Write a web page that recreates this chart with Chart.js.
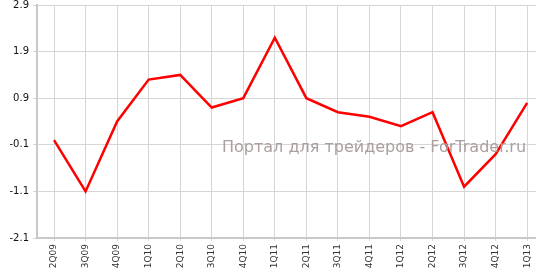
<!DOCTYPE html>
<html>
<head>
<meta charset="utf-8">
<script src="https://cdn.jsdelivr.net/npm/chart.js@4"></script>
<style>
  html, body { margin: 0; padding: 0; background: #fff; overflow: hidden; }
  #wrap { width: 536px; height: 271px; }
</style>
</head>
<body>
<div id="wrap"><canvas id="myChart" width="536" height="271"></canvas></div>
<script>
const quarters = ["2Q09", "3Q09", "4Q09", "1Q10", "2Q10", "3Q10", "4Q10", "1Q11",
  "2Q11", "3Q11", "4Q11", "1Q12", "2Q12", "3Q12", "4Q12", "1Q13"];
const values = [0.0, -1.1, 0.4, 1.3, 1.4, 0.7, 0.9, 2.2,
  0.9, 0.6, 0.5, 0.3, 0.6, -1.0, -0.3, 0.8];
const yTicks = [-2.1, -1.1, -0.1, 0.9, 1.9, 2.9];
const watermark = "Портал для трейдеров - ForTrader.ru";

const gridColor = "#d6d6d6";
const axisColor = "#c8c8c8";

const watermarkPlugin = {
  id: "watermark",
  afterDraw(chart) {
    const c = chart.ctx;
    c.save();
    c.font = '16px "DejaVu Sans"';
    c.fillStyle = "#ab9f9f";
    c.textAlign = "left";
    c.textBaseline = "alphabetic";
    c.fillText(watermark, 222, 152);
    c.restore();
  },
};

function noScalePadding(scale) {
  scale.paddingTop = 0;
  scale.paddingBottom = 0;
  scale.paddingLeft = 0;
  scale.paddingRight = 0;
}

const ctx = document.getElementById("myChart");
new Chart(ctx, {
  type: "line",
  data: {
    datasets: [
      {
        data: values.map((v, i) => ({ x: i, y: v })),
        borderColor: "#ff0000",
        borderWidth: 2.5,
        pointRadius: 0,
        tension: 0,
        fill: false,
      },
    ],
  },
  options: {
    responsive: false,
    animation: false,
    devicePixelRatio: 1,
    layout: { padding: { top: 5, left: 0, right: 0, bottom: 0 } },
    plugins: {
      legend: { display: false },
      tooltip: { enabled: false },
    },
    scales: {
      x: {
        type: "linear",
        min: -0.54,
        max: 15.28,
        afterBuildTicks: (scale) => {
          scale.ticks = quarters.map((q, i) => ({ value: i }));
        },
        afterFit: (scale) => {
          scale.height = 33;
          noScalePadding(scale);
        },
        grid: { color: gridColor, lineWidth: 1, tickLength: 3, drawTicks: true },
        border: { color: axisColor, width: 2 },
        ticks: {
          autoSkip: false,
          minRotation: 90,
          maxRotation: 90,
          padding: 3,
          color: "#333",
          font: { family: "DejaVu Sans", size: 9 },
          callback: (v) => quarters[v],
        },
      },
      y: {
        min: -2.1,
        max: 2.9,
        afterBuildTicks: (scale) => {
          scale.ticks = yTicks.map((v) => ({ value: v }));
        },
        afterFit: (scale) => {
          scale.width = 37;
          noScalePadding(scale);
        },
        grid: { color: gridColor, lineWidth: 1, tickLength: 4, drawTicks: true },
        border: { color: axisColor, width: 2 },
        ticks: {
          padding: 4,
          color: "#111",
          font: { family: "DejaVu Sans", size: 10 },
          callback: (v) => v.toFixed(1),
        },
      },
    },
  },
  plugins: [watermarkPlugin],
});
</script>
</body>
</html>
